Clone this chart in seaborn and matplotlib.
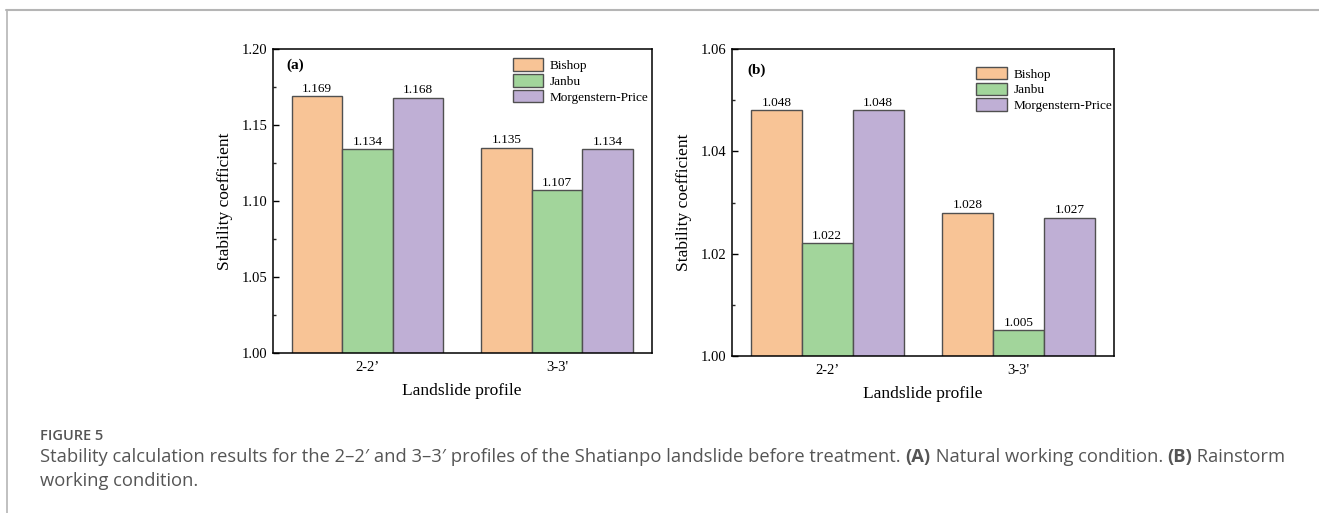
import matplotlib
matplotlib.use("Agg")
import matplotlib.pyplot as plt
from matplotlib.lines import Line2D
import seaborn as sns
import pandas as pd
import numpy as np

# ---- data ----
profiles = ["2-2\u2019", "3-3'"]
methods = ["Bishop", "Janbu", "Morgenstern-Price"]
natural_bishop = [1.169, 1.135]
natural_janbu = [1.134, 1.107]
natural_mp = [1.168, 1.134]
rain_bishop = [1.048, 1.028]
rain_janbu = [1.022, 1.005]
rain_mp = [1.048, 1.027]
colors = ["#F8C496", "#A2D59B", "#BFAFD5"]

sns.set_theme(style="white")
plt.rcParams["font.family"] = ["Liberation Serif", "DejaVu Serif"]
plt.rcParams["mathtext.fontset"] = "stix"

def make_df(b, j, m):
    rows = []
    for vals, meth in zip([b, j, m], methods):
        for p, v in zip(profiles, vals):
            rows.append({"profile": p, "method": meth, "value": v})
    return pd.DataFrame(rows)

W, H = 1319, 513
fig = plt.figure(figsize=(W / 100, H / 100), dpi=100)
fig.patch.set_facecolor("white")

ax_a = fig.add_axes([272.7 / W, 1 - 353 / H, 379 / W, 304 / H])
ax_b = fig.add_axes([731.7 / W, 1 - 356 / H, 382.3 / W, 307 / H])

panels = [
    (ax_a, make_df(natural_bishop, natural_janbu, natural_mp), (1.00, 1.20), 0.05, 0.025,
     "(a)", (0.037, 0.947), (0.633, 0.97)),
    (ax_b, make_df(rain_bishop, rain_janbu, rain_mp), (1.00, 1.06), 0.02, 0.01,
     "(b)", (0.040, 0.932), (0.64, 0.942)),
]

for ax, df, ylim, major, minor, tag, tagpos, legpos in panels:
    sns.barplot(data=df, x="profile", y="value", hue="method", hue_order=methods,
                order=profiles, palette=colors, edgecolor="#505050", linewidth=1.0,
                width=0.8, saturation=1, ax=ax)
    ax.set_ylim(*ylim)
    ax.set_xlim(-0.5, 1.5)
    ax.set_yticks(np.round(np.arange(ylim[0], ylim[1] + 1e-9, major), 3))
    ax.set_yticks(np.round(np.arange(ylim[0], ylim[1] + 1e-9, minor), 3), minor=True)
    ax.yaxis.set_major_formatter(matplotlib.ticker.FormatStrFormatter("%.2f"))
    ax.tick_params(axis="y", which="major", direction="in", length=4, width=1,
                   labelsize=10.5, colors="black", left=True, pad=4)
    ax.tick_params(axis="y", which="minor", direction="in", length=2.5, width=1, left=True)
    ax.tick_params(axis="x", length=0, labelsize=10.5, pad=6, colors="black")
    for s in ax.spines.values():
        s.set_visible(True)
        s.set_color("black")
        s.set_linewidth(1.1)
    ax.set_xlabel("Landslide profile", fontsize=12.5, labelpad=6, color="black")
    ax.set_ylabel("Stability coefficient", fontsize=12.5, labelpad=6, color="black")
    for c in ax.containers:
        ax.bar_label(c, fmt="%.3f", padding=1, fontsize=9.5, color="black")
    ax.text(tagpos[0], tagpos[1], tag, transform=ax.transAxes, fontsize=11,
            fontweight="bold", va="center", ha="left", color="black")
    handles, labels = ax.get_legend_handles_labels()
    leg = ax.legend(handles, labels, loc="upper left", bbox_to_anchor=legpos,
                    frameon=False, fontsize=9.5, handlelength=2.3, handleheight=1.1,
                    labelspacing=0.15, borderpad=0, borderaxespad=0, handletextpad=0.5)
    for t in leg.get_texts():
        t.set_color("black")

# frame lines
fig.add_artist(Line2D([6 / W, 1], [1 - 9.5 / H, 1 - 9.5 / H], color="#b5b5b5", lw=1.5))
fig.add_artist(Line2D([6.5 / W, 6.5 / W], [0, 1 - 9.5 / H], color="#b5b5b5", lw=1.2))

# caption
cap_font = ["Open Sans", "DejaVu Sans"]
fig.text(40 / W, 1 - 436 / H, "FIGURE 5", fontsize=10.5, color="#555555",
         family=cap_font, fontweight="semibold", va="center", ha="left")

fig.canvas.draw()
renderer = fig.canvas.get_renderer()

def draw_runs(runs, x0, y):
    x = x0
    for txt, weight in runs:
        t = fig.text(x / W, 1 - y / H, txt, fontsize=13.25, color="#555555",
                     family=cap_font, fontweight=weight, va="center", ha="left")
        bb = t.get_window_extent(renderer=renderer)
        x = bb.x1

line1 = [
    ("Stability calculation results for the 2\u20132\u2032 and 3\u20133\u2032 profiles of the "
     "Shatianpo landslide before treatment. ", "normal"),
    ("(A)", "bold"),
    (" Natural working condition. ", "normal"),
    ("(B)", "bold"),
    (" Rainstorm", "normal"),
]
draw_runs(line1, 40, 457)
draw_runs([("working condition.", "normal")], 40, 481)

fig.savefig("out.png", dpi=100, facecolor="white")
